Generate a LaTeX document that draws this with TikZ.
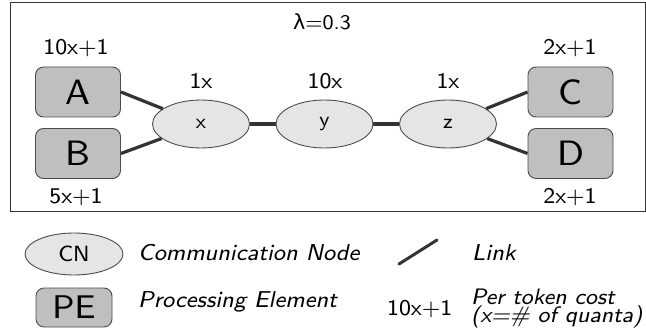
\documentclass[tikz,border=0pt]{standalone}
\usepackage{graphicx}
\usepackage{fontspec}
\newfontfamily\dvsans{DejaVu Sans}
\usetikzlibrary{shapes.geometric}
\newcommand\tx[2]{\scalebox{#1}{\sffamily\fontsize{8}{9.6}\selectfont #2}}
\newcommand\ti[2]{\scalebox{#1}{\sffamily\itshape\fontsize{8}{9.6}\selectfont #2}}
\begin{document}
\begin{tikzpicture}[x=1pt,y=-1pt,
  pebox/.style={draw=black!70,line width=0.9pt,fill=black!25,rounded corners=8pt,
    minimum width=85pt,minimum height=50pt,inner sep=0pt},
  cnode/.style={ellipse,draw=black!70,line width=0.9pt,fill=black!10,
    minimum width=97pt,minimum height=48pt,inner sep=0pt},
  link/.style={line width=3.2pt,draw=black!80},
  lbl/.style={inner sep=0pt},
  legtext/.style={inner sep=0pt,anchor=west}]
\useasboundingbox (0,0) rectangle (646,334);
\draw[line width=1pt,draw=black!80] (10,3) rectangle (645,212);
% PEs
\node[pebox] (A) at (78,92) {\tx{4.4}{A}};
\node[pebox] (B) at (78,153.5) {\tx{4.4}{B}};
\node[pebox] (C) at (570.5,92) {\tx{4.4}{C}};
\node[pebox] (D) at (570.5,153.5) {\tx{4.4}{D}};
% CNs
\node[cnode] (x) at (201,124) {\tx{2.6}{x}};
\node[cnode] (y) at (324.5,124) {\tx{2.6}{y}};
\node[cnode] (z) at (448,124) {\tx{2.6}{z}};
% links
\draw[link] (A.east) -- (x);
\draw[link] (B.east) -- (x);
\draw[link] (x) -- (y);
\draw[link] (y) -- (z);
\draw[link] (z) -- (C.west);
\draw[link] (z) -- (D.west);
% labels
\node[lbl] (lam) at (322,22) {\scalebox{2.6}{\fontsize{8}{9.6}\selectfont{\dvsans λ}\sffamily=0.3}};
\node[lbl] (la) at (76,48) {\tx{2.8}{10x+1}};
\node[lbl] (lb) at (76,197) {\tx{2.8}{5x+1}};
\node[lbl] (lc) at (570,48) {\tx{2.8}{2x+1}};
\node[lbl] (ld) at (570,197) {\tx{2.8}{2x+1}};
\node[lbl] (lx) at (201,81) {\tx{2.8}{1x}};
\node[lbl] (ly) at (325,81) {\tx{2.8}{10x}};
\node[lbl] (lz) at (448,81) {\tx{2.8}{1x}};
% legend
\node[cnode,minimum width=98pt,minimum height=42pt] (cn) at (74,254) {\tx{2.75}{CN}};
\node[legtext] (cntext) at (138,253) {\ti{2.87}{Communication Node}};
\node[pebox,minimum width=76pt,minimum height=39pt] (pe) at (74,307.5) {\tx{4.1}{PE}};
\node[legtext] (petext) at (138,302) {\ti{2.87}{Processing Element}};
\coordinate (l1) at (399,264);
\coordinate (l2) at (437,240);
\draw[link,line width=3pt,line cap=round] (l1) -- (l2);
\node[legtext] (linktext) at (472,253) {\ti{2.87}{Link}};
\node[lbl,anchor=west] (cost) at (387,309) {\tx{2.8}{10x+1}};
\node[legtext] (costtext1) at (471,297) {\ti{2.8}{Per token cost}};
\node[legtext] (costtext2) at (471,317) {\ti{2.8}{(x=\# of quanta)}};
\end{tikzpicture}
\end{document}
